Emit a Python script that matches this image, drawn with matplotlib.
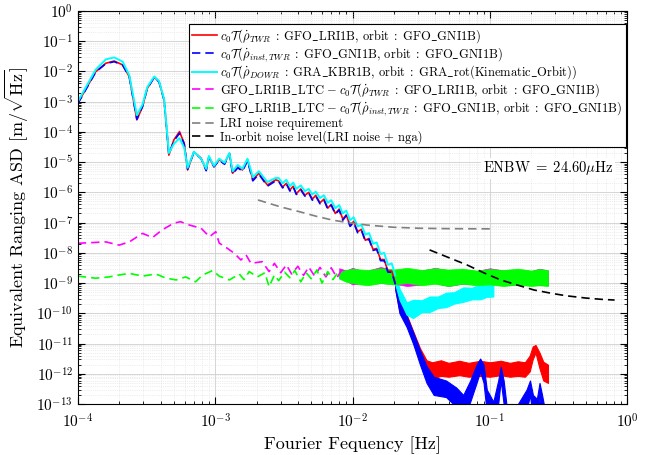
import numpy as np
import matplotlib
matplotlib.use('Agg')
import matplotlib.pyplot as plt
from matplotlib.ticker import LogLocator, NullFormatter

plt.rcParams['font.family'] = 'serif'
plt.rcParams['font.serif'] = ['cmr10']
plt.rcParams['mathtext.fontset'] = 'cm'
plt.rcParams['axes.formatter.use_mathtext'] = True
plt.rcParams['axes.unicode_minus'] = False

# low frequency part, shared grid for the three range-rate curves
f_lf = [1.0e-4, 1.35e-4, 1.6e-4, 1.84e-4, 2.12e-4, 2.37e-4, 2.69e-4, 2.96e-4, 3.2e-4, 3.6e-4,
        3.9e-4, 4.25e-4, 4.6e-4, 5.0e-4, 5.5e-4, 5.95e-4, 6.3e-4, 7.0e-4, 7.9e-4, 8.6e-4,
        9.0e-4, 9.8e-4, 1.07e-3, 1.17e-3, 1.27e-3, 1.34e-3, 1.46e-3, 1.58e-3, 1.72e-3, 1.88e-3,
        2.08e-3, 2.4e-3, 2.76e-3]
red_lf = [8.9e-4, 9.8e-3, 1.86e-2, 2.2e-2, 1.64e-2, 6.7e-3, 2.5e-4, 6.8e-4, 2.7e-3, 6.4e-3,
          4.6e-3, 1.14e-3, 1.7e-5, 5.4e-5, 1.02e-4, 4.2e-5, 5.5e-6, 2.2e-5, 1.34e-5, 5.5e-6,
          1.5e-5, 7e-6, 1.2e-5, 9e-6, 1.95e-5, 4.3e-6, 7e-6, 5.5e-6, 1.2e-5, 2.6e-6,
          4.3e-6, 1.75e-6, 2.6e-6]
blue_lf = [8.5e-4, 9.5e-3, 1.8e-2, 2.1e-2, 1.6e-2, 6.5e-3, 2.6e-4, 7e-4, 2.7e-3, 6.3e-3,
           4.5e-3, 1.1e-3, 1.8e-5, 5e-5, 9e-5, 4e-5, 5.8e-6, 2.1e-5, 1.3e-5, 5.2e-6,
           1.45e-5, 7e-6, 1.15e-5, 8.5e-6, 1.9e-5, 4e-6, 6.5e-6, 5e-6, 1.1e-5, 2.4e-6,
           4e-6, 1.6e-6, 2.4e-6]
cyan_lf = [1.0e-3, 1.15e-2, 2.5e-2, 2.9e-2, 2.1e-2, 7.5e-3, 3.6e-4, 8e-4, 3.0e-3, 6.8e-3,
           4.8e-3, 1.2e-3, 2.0e-5, 4.0e-5, 6.2e-5, 3.0e-5, 6.5e-6, 2.2e-5, 1.3e-5, 6e-6,
           1.6e-5, 7.5e-6, 1.3e-5, 9.5e-6, 2.0e-5, 5e-6, 8e-6, 6e-6, 1.3e-5, 3.2e-6,
           5e-6, 2.2e-6, 3e-6]

# noisy roll-off 2.9 mHz .. 20 mHz
f_roll = [2.9e-3, 3.1e-3, 3.3e-3, 3.5e-3, 3.7e-3, 3.9e-3, 4.2e-3, 4.5e-3, 4.8e-3, 5.1e-3,
          5.4e-3, 5.8e-3, 6.2e-3, 6.6e-3, 7.0e-3, 7.5e-3, 8.0e-3, 8.5e-3, 9.0e-3, 9.6e-3,
          1.02e-2, 1.09e-2, 1.16e-2, 1.24e-2, 1.32e-2, 1.41e-2, 1.5e-2, 1.6e-2, 1.7e-2, 1.81e-2,
          1.93e-2, 2.05e-2]
red_roll = [2.4e-6, 1.5e-6, 2.0e-6, 1.2e-6, 1.6e-6, 9e-7, 1.3e-6, 8e-7, 1.0e-6, 6e-7,
            8e-7, 4.5e-7, 6e-7, 3e-7, 4e-7, 2e-7, 2.8e-7, 1.3e-7, 1.8e-7, 8e-8,
            1.1e-7, 5e-8, 6e-8, 2.6e-8, 3e-8, 1.3e-8, 1.4e-8, 6e-9, 6e-9, 2.5e-9,
            2.5e-9, 1.0e-9]
blue_roll = [2.3e-6, 1.4e-6, 1.9e-6, 1.1e-6, 1.5e-6, 8.5e-7, 1.2e-6, 7.5e-7, 9.5e-7, 5.5e-7,
             7.5e-7, 4.2e-7, 5.5e-7, 2.8e-7, 3.8e-7, 1.9e-7, 2.6e-7, 1.2e-7, 1.7e-7, 7.5e-8,
             1.0e-7, 4.6e-8, 5.6e-8, 2.4e-8, 2.8e-8, 1.2e-8, 1.3e-8, 5.5e-9, 5.5e-9, 2.3e-9,
             2.3e-9, 9e-10]
cyan_roll = [3.0e-6, 2.0e-6, 2.6e-6, 1.6e-6, 2.1e-6, 1.3e-6, 1.7e-6, 1.1e-6, 1.3e-6, 8.5e-7,
             1.05e-6, 6.5e-7, 8e-7, 4.5e-7, 5.5e-7, 3e-7, 3.8e-7, 2e-7, 2.5e-7, 1.2e-7,
             1.5e-7, 7.5e-8, 8.5e-8, 4e-8, 4.5e-8, 2e-8, 2.2e-8, 9e-9, 1e-8, 4e-9,
             4.5e-9, 1.8e-9]

# high frequency parts (noise bands, lower and upper edge)
f_red_hf = [2.05e-2, 2.2e-2, 2.48e-2, 2.76e-2, 3.1e-2, 3.46e-2, 3.8e-2, 4.4e-2, 5e-2, 6e-2,
            7e-2, 8.5e-2, 1e-1, 1.2e-1, 1.4e-1, 1.6e-1, 1.8e-1, 1.95e-1, 2.05e-1, 2.15e-1,
            2.3e-1, 2.45e-1, 2.65e-1]
red_hf_hi = [1.5e-9, 2.5e-10, 9e-11, 2.6e-11, 7e-12, 2.8e-12, 2.4e-12, 2.8e-12, 2.3e-12, 2.7e-12,
             2.3e-12, 2.7e-12, 2.4e-12, 2.7e-12, 2.3e-12, 2.6e-12, 2.4e-12, 4e-12, 8e-12, 9e-12,
             5e-12, 2.5e-12, 2e-12]
red_hf_lo = [6e-10, 1.1e-10, 4e-11, 1.1e-11, 3e-12, 9e-13, 7e-13, 8.5e-13, 8e-13, 9e-13,
             8e-13, 8.5e-13, 8e-13, 9e-13, 8e-13, 8.5e-13, 8e-13, 1.2e-12, 3e-12, 5e-12,
             1.5e-12, 6e-13, 5e-13]

f_blue_hf = [2.05e-2, 2.2e-2, 2.48e-2, 2.76e-2, 3.1e-2, 3.46e-2, 3.9e-2, 4.8e-2, 5.7e-2, 6.4e-2,
             7.2e-2, 8.0e-2, 8.5e-2, 9.0e-2, 9.5e-2, 1.06e-1, 1.15e-1, 1.2e-1, 1.26e-1, 1.32e-1,
             1.6e-1, 1.85e-1, 1.96e-1, 2.06e-1, 2.2e-1, 2.3e-1, 2.4e-1, 2.47e-1]
blue_hf_hi = [1.5e-9, 2.4e-10, 8e-11, 2.4e-11, 6e-12, 1.8e-12, 8e-13, 6e-13, 3.5e-13, 2e-13,
              6e-13, 2e-12, 3.2e-12, 2e-12, 3e-13, 1.2e-13, 6e-13, 1.7e-12, 6e-13, 1e-13,
              1e-13, 3e-13, 6e-13, 2e-13, 1.5e-13, 5e-13, 2e-13, 1e-13]
blue_hf_lo = [6e-10, 1e-10, 3.5e-11, 1e-11, 2e-12, 5e-13, 2e-13, 1.7e-13, 8e-14, 3e-14,
              1.2e-13, 5e-13, 1.2e-12, 5e-13, 5e-14, 3e-14, 1e-13, 6e-13, 1e-13, 3e-14,
              3e-14, 6e-14, 2e-13, 3e-14, 3e-14, 1.5e-13, 3e-14, 3e-14]

f_cyan_hf = [2.05e-2, 2.2e-2, 2.48e-2, 2.76e-2, 3.2e-2, 3.64e-2, 4.2e-2, 4.8e-2, 5.5e-2, 6.4e-2,
             7.4e-2, 8.5e-2, 9.5e-2, 1.06e-1]
cyan_hf_hi = [1.8e-9, 6.5e-10, 2.3e-10, 2.8e-10, 2.7e-10, 3.6e-10, 3.6e-10, 4.8e-10, 5e-10, 7.2e-10,
              7e-10, 9e-10, 8.5e-10, 1e-9]
cyan_hf_lo = [9e-10, 2.8e-10, 9e-11, 7e-11, 1.1e-10, 1.1e-10, 1.5e-10, 1.6e-10, 2.1e-10, 2.4e-10,
              2.9e-10, 2.9e-10, 3.5e-10, 3.6e-10]

# LTC differences
f_mag = [1.0e-4, 1.6e-4, 2.0e-4, 2.37e-4, 2.96e-4, 3.5e-4, 4.1e-4, 5.0e-4, 5.6e-4, 6.5e-4,
         7.9e-4, 9.1e-4, 1.01e-3, 1.07e-3, 1.23e-3, 1.38e-3, 1.54e-3, 1.68e-3, 1.82e-3, 2.2e-3,
         2.47e-3, 2.7e-3, 3e-3, 3.3e-3, 3.6e-3, 4e-3, 4.4e-3, 4.8e-3, 5.3e-3, 5.8e-3,
         6.4e-3, 7e-3, 7.7e-3, 8.5e-3]
mag = [2.07e-8, 2.3e-8, 1.8e-8, 2.3e-8, 4.4e-8, 3.2e-8, 5.7e-8, 9.6e-8, 1.07e-7, 8.3e-8,
       6.5e-8, 3.4e-8, 5e-8, 2.1e-8, 1.4e-8, 9.6e-9, 5.8e-9, 8.5e-9, 4.5e-9, 5.1e-9,
       2.4e-9, 4.5e-9, 2.2e-9, 4e-9, 2.0e-9, 3.6e-9, 1.8e-9, 3.4e-9, 1.7e-9, 3.3e-9,
       1.6e-9, 3.2e-9, 1.5e-9, 3.1e-9]
f_grn = [1.0e-4, 1.35e-4, 1.69e-4, 2.0e-4, 2.37e-4, 2.96e-4, 3.7e-4, 4.4e-4, 5.2e-4, 6.1e-4,
         7.2e-4, 8.1e-4, 9.6e-4, 1.07e-3, 1.27e-3, 1.5e-3, 1.62e-3, 1.77e-3, 2.03e-3, 2.3e-3,
         2.47e-3, 2.7e-3, 2.9e-3, 3.2e-3, 3.5e-3, 3.8e-3, 4.2e-3, 4.6e-3, 5e-3, 5.5e-3,
         6e-3, 6.6e-3, 7.2e-3, 8e-3]
grn = [1.7e-9, 1.45e-9, 1.6e-9, 1.85e-9, 2.1e-9, 1.7e-9, 2.0e-9, 1.45e-9, 1.27e-9, 1.6e-9,
       1.1e-9, 1.85e-9, 2.6e-9, 1.7e-9, 1.27e-9, 2.0e-9, 1.3e-9, 2.4e-9, 1.6e-9, 2.2e-9,
       7.6e-10, 1.85e-9, 1.2e-9, 2.3e-9, 1.5e-9, 2.6e-9, 1.1e-9, 2.2e-9, 1.4e-9, 2.7e-9,
       1.0e-9, 2.4e-9, 1.3e-9, 2.6e-9]

f_ltc_band = [8e-3, 9e-3, 1e-2, 1.15e-2, 1.3e-2, 1.6e-2, 2e-2, 2.5e-2, 3.2e-2, 4e-2,
              5e-2, 6.3e-2, 8e-2, 1e-1, 1.26e-1, 1.6e-1, 2e-1, 2.3e-1, 2.65e-1]
mag_band_hi = [3.1e-9, 2.6e-9, 3.2e-9, 2.6e-9, 2.6e-9, 3.4e-9, 2.7e-9, 2.9e-9, 2.6e-9, 3.2e-9,
               2.6e-9, 2.8e-9, 2.5e-9, 3.1e-9, 2.6e-9, 2.8e-9, 2.5e-9, 3.0e-9, 2.6e-9]
mag_band_lo = [1.5e-9, 1.2e-9, 9e-10, 1e-9, 9.5e-10, 1e-9, 9.5e-10, 8e-10, 9e-10, 1e-9,
               8e-10, 9.5e-10, 9e-10, 9.5e-10, 8.5e-10, 9e-10, 9e-10, 8.5e-10, 8.5e-10]
grn_band_hi = [2.4e-9, 2.7e-9, 3.0e-9, 2.8e-9, 2.7e-9, 3.1e-9, 2.8e-9, 3.2e-9, 2.7e-9, 3.1e-9,
               2.8e-9, 3.0e-9, 2.6e-9, 2.9e-9, 2.7e-9, 3.0e-9, 2.6e-9, 2.9e-9, 2.7e-9]
grn_band_lo = [1.4e-9, 1.1e-9, 1e-9, 9e-10, 8.5e-10, 1e-9, 9e-10, 1e-9, 8.5e-10, 9.5e-10,
               8e-10, 9.5e-10, 8.5e-10, 9e-10, 8e-10, 9e-10, 8e-10, 8.5e-10, 8e-10]

# reference levels
f_req = [2.05e-3, 3e-3, 4.1e-3, 5.5e-3, 7.2e-3, 9.6e-3, 1.27e-2, 2e-2, 3.1e-2, 5e-2, 1.06e-1]
req = [5.6e-7, 3.3e-7, 2.3e-7, 1.6e-7, 1.2e-7, 9.8e-8, 8.3e-8, 7e-8, 6.5e-8, 6.3e-8, 6.2e-8]
f_orb = [0.0364, 0.05, 0.068, 0.09, 0.12, 0.16, 0.21, 0.28, 0.36, 0.5, 0.65, 0.81]
orb = [1.25e-8, 7e-9, 4e-9, 2.2e-9, 1.27e-9, 8.5e-10, 5.9e-10, 4.6e-10, 3.8e-10, 3.2e-10,
       2.9e-10, 2.75e-10]

labels = [
    r'$c_0\mathcal{T}(\dot{\rho}_{TWR}\;:\;\mathrm{GFO\_LRI1B},\,\mathrm{orbit}\;:\;\mathrm{GFO\_GNI1B})$',
    r'$c_0\mathcal{T}(\dot{\rho}_{inst,TWR}\;:\;\mathrm{GFO\_GNI1B},\,\mathrm{orbit}\;:\;\mathrm{GFO\_GNI1B})$',
    r'$c_0\mathcal{T}(\dot{\rho}_{DOWR}\;:\;\mathrm{GRA\_KBR1B},\,\mathrm{orbit}\;:\;\mathrm{GRA\_rot(Kinematic\_Orbit)})$',
    r'$\mathrm{GFO\_LRI1B\_LTC}\;{-}\;c_0\mathcal{T}(\dot{\rho}_{TWR}\;:\;\mathrm{GFO\_LRI1B},\,\mathrm{orbit}\;:\;\mathrm{GFO\_GNI1B})$',
    r'$\mathrm{GFO\_LRI1B\_LTC}\;{-}\;c_0\mathcal{T}(\dot{\rho}_{inst,TWR}\;:\;\mathrm{GFO\_GNI1B},\,\mathrm{orbit}\;:\;\mathrm{GFO\_GNI1B})$',
    'LRI noise requirement',
    'In-orbit noise level(LRI noise + nga)',
]

dash = (0, (5, 3))
fig = plt.figure(figsize=(6.54, 4.55), dpi=100)
ax = fig.add_axes([0.119, 0.112, 0.840, 0.864])

# red
l1, = ax.plot(f_lf + f_roll, red_lf + red_roll, color='#ff0000', lw=1.2, label=labels[0])
ax.fill_between(f_red_hf, red_hf_lo, red_hf_hi, color='#ff0000', lw=0.8)
# blue
l2, = ax.plot(f_lf + f_roll, blue_lf + blue_roll, color='#0000ff', lw=1.2, ls=dash, label=labels[1])
ax.fill_between(f_blue_hf, blue_hf_lo, blue_hf_hi, color='#0000ff', lw=0.8)
# cyan
l3, = ax.plot(f_lf + f_roll, cyan_lf + cyan_roll, color='#00ffff', lw=1.4, label=labels[2])
ax.fill_between(f_cyan_hf, cyan_hf_lo, cyan_hf_hi, color='#00ffff', lw=0.8)
# magenta
l4, = ax.plot(f_mag, mag, color='#ff00ff', lw=1.2, ls=dash, label=labels[3])
ax.fill_between(f_ltc_band, mag_band_lo, mag_band_hi, color='#ff00ff', lw=0.5)
# green
l5, = ax.plot(f_grn, grn, color='#00ff00', lw=1.2, ls=dash, label=labels[4])
ax.fill_between(f_ltc_band, grn_band_lo, grn_band_hi, color='#00ff00', lw=0.5)
# reference levels
l6, = ax.plot(f_req, req, color='#808080', lw=1.2, ls=dash, label=labels[5])
l7, = ax.plot(f_orb, orb, color='black', lw=1.2, ls=dash, label=labels[6])

ax.set_xscale('log')
ax.set_yscale('log')
ax.set_xlim(1e-4, 1)
ax.set_ylim(1e-13, 1)
ax.set_xticks([1e-4, 1e-3, 1e-2, 1e-1, 1])
ax.set_yticks([10.0 ** k for k in range(-13, 1)])
ax.xaxis.set_minor_locator(LogLocator(base=10, subs=np.arange(2, 10), numticks=20))
ax.yaxis.set_minor_locator(LogLocator(base=10, subs=np.arange(2, 10), numticks=30))
ax.xaxis.set_minor_formatter(NullFormatter())
ax.yaxis.set_minor_formatter(NullFormatter())
ax.tick_params(which='both', direction='in', top=True, right=True, labelsize=11)
ax.tick_params(axis='x', which='major', pad=6)
ax.tick_params(which='major', length=5)
ax.tick_params(which='minor', length=2.5)
ax.grid(which='major', color='#cfcfcf', lw=0.6, ls='-')
ax.grid(which='minor', color='#dedede', lw=0.5, ls=':')
ax.set_axisbelow(True)

ax.set_xlabel('Fourier Fequency [Hz]', fontsize=13)
ax.set_ylabel(r'Equivalent Ranging ASD $[\mathrm{m}/\sqrt{\mathrm{Hz}}]$', fontsize=13)

ax.text(0.975, 0.60, r'$\mathrm{ENBW}\;=\;24.60\mu\mathrm{Hz}$', transform=ax.transAxes,
        ha='right', va='center', fontsize=10.5,
        bbox=dict(facecolor='white', edgecolor='none', pad=1))

leg = ax.legend(handles=[l1, l2, l3, l4, l5, l6, l7], loc='upper right',
                bbox_to_anchor=(0.997, 0.966), borderaxespad=0, fontsize=9.0,
                labelspacing=0.0, handlelength=2.0, handletextpad=0.3, borderpad=0.25,
                fancybox=False, framealpha=1)
leg.get_frame().set_edgecolor('black')
leg.get_frame().set_linewidth(0.8)

fig.savefig('out.png', dpi=100)
